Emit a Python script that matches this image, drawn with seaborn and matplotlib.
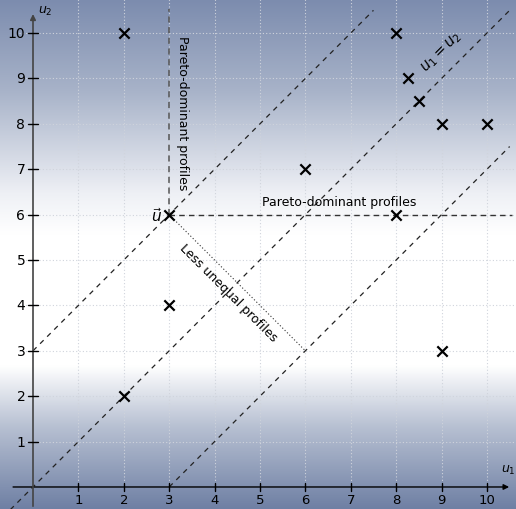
import matplotlib
matplotlib.use('Agg')
import matplotlib.pyplot as plt
from matplotlib.colors import LinearSegmentedColormap
import numpy as np
import pandas as pd
import seaborn as sns

# profiles (u1, u2)
u1 = [2, 8, 8.25, 8.5, 9, 10, 6, 3, 8, 3, 9, 2]
u2 = [10, 10, 9, 8.5, 8, 8, 7, 6, 6, 4, 3, 2]

ref_u = (3, 6)
ticks = list(range(1, 11))

# diagonal lines u2 = u1 + c, with u1 range
diag_offsets = [3, 0, -3]
diag_u1_start = [0, -0.5, 3]
diag_u1_end = [7.5, 10.5, 10.5]

xlim = (-0.727, 10.64)
ylim = (-0.485, 10.75)

sns.set_style("white")
plt.rcParams['font.family'] = ['DejaVu Sans']
plt.rcParams['mathtext.fontset'] = 'dejavusans'
plt.rcParams['text.color'] = 'black'

fig = plt.figure(figsize=(5.16, 5.10), dpi=100)
ax = fig.add_axes([0, 0, 1, 1])
ax.set_xlim(*xlim)
ax.set_ylim(*ylim)

# beamer-like vertical shading
bg = LinearSegmentedColormap.from_list("bg", [
    (0.0, "#7c8cae"), (0.18, "#a8b3c9"), (0.38, "#eef0f5"), (0.46, "#ffffff"),
    (0.72, "#ffffff"), (0.84, "#b7c0d2"), (1.0, "#6f80a4")])
grad = np.linspace(0, 1, 256).reshape(-1, 1)
ax.imshow(grad, cmap=bg, aspect='auto', extent=(xlim[0], xlim[1], ylim[0], ylim[1]),
          origin='upper', zorder=0)

# grid
for t in ticks:
    ax.axvline(t, ymin=(0 - ylim[0]) / (ylim[1] - ylim[0]), color='#d0d4dc', lw=0.8,
               ls=(0, (1, 2)), zorder=1)
    ax.axhline(t, xmin=(-0.3 - xlim[0]) / (xlim[1] - xlim[0]), color='#d0d4dc', lw=0.8,
               ls=(0, (1, 2)), zorder=1)

# axes with arrows
ax.annotate('', xy=(10.55, 0), xytext=(-0.5, 0),
            arrowprops=dict(arrowstyle='-|>', color='black', lw=1, mutation_scale=8), zorder=3)
ax.annotate('', xy=(0, 10.48), xytext=(0, ylim[0]),
            arrowprops=dict(arrowstyle='-|>', color='#444444', lw=1.2, mutation_scale=8), zorder=3)
for t in ticks:
    ax.plot([t, t], [-0.09, 0.09], color='black', lw=1, zorder=3)
    ax.text(t, -0.27, str(t), ha='center', va='center', fontsize=9.5, zorder=4)
    ax.plot([-0.11, 0.11], [t, t], color='black', lw=1, zorder=3)
    ax.text(-0.17, t, str(t), ha='right', va='center', fontsize=10, zorder=4)
ax.text(10.46, 0.38, '$u_1$', ha='center', va='center', fontsize=9)
ax.text(0.12, 10.5, '$u_2$', ha='left', va='center', fontsize=9)

# diagonal dashed lines
for c, a, b in zip(diag_offsets, diag_u1_start, diag_u1_end):
    xs = np.array([a, b])
    ax.plot(xs, xs + c, color='#222222', lw=0.9, ls=(0, (4, 4)), zorder=2)

# pareto-dominance cone
ax.plot([ref_u[0], ref_u[0]], [ref_u[1], 10.53], color='#555555', lw=1.1,
        ls=(0, (4, 3)), zorder=2)
ax.plot([ref_u[0], 10.55], [ref_u[1], ref_u[1]], color='#333333', lw=1.0,
        ls=(0, (4, 3)), zorder=2)
ax.plot([ref_u[0], 6], [ref_u[1], 3], color='#333333', lw=0.8, ls=(0, (1, 2)), zorder=2)

pts = pd.DataFrame({'u1': u1, 'u2': u2})
sns.scatterplot(data=pts, x='u1', y='u2', marker='x', s=55, color='black',
                linewidth=1.6, ax=ax, zorder=5)

ax.text(3.3, 8.25, 'Pareto-dominant profiles', rotation=270, ha='center', va='center',
        fontsize=9, zorder=4)
ax.text(6.74, 6.3, 'Pareto-dominant profiles', ha='center', va='center', fontsize=9, zorder=4)
ax.text(4.3, 4.3, 'Less unequal profiles', rotation=-45, ha='center', va='center',
        fontsize=9, zorder=4)
ax.text(9.0, 9.6, '$u_1 = u_2$', rotation=45, ha='center', va='center', fontsize=10.5, zorder=4)
ax.text(2.73, 6.0, r'$\vec{u}$', ha='center', va='center', fontsize=11, zorder=4)

ax.set_xlabel('')
ax.set_ylabel('')
ax.set_xticks([])
ax.set_yticks([])
for s in ax.spines.values():
    s.set_visible(False)

fig.savefig('out.png', dpi=100)
